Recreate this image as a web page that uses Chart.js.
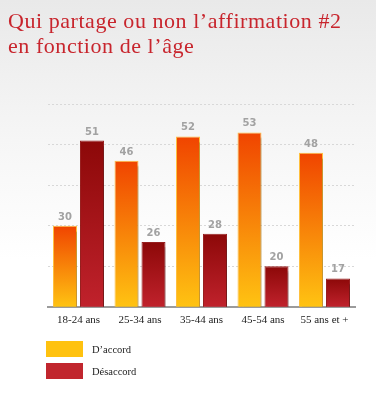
<!DOCTYPE html>
<html>
<head>
<meta charset="utf-8">
<script src="https://cdn.jsdelivr.net/npm/chart.js@4/dist/chart.umd.min.js"></script>
<style>
  html, body { margin: 0; padding: 0; }
  body {
    width: 376px; height: 410px; position: relative; overflow: hidden;
    background: linear-gradient(#e9e9e9 0px, #f6f6f6 140px, #ffffff 260px);
  }
  #title {
    position: absolute; left: 8px; top: 8px; margin: 0;
    font: normal 22px/25px "Liberation Serif", serif; letter-spacing: 0.55px;
    color: #c8252d;
  }
  #wrap { position: absolute; left: 0; top: 0; width: 376px; height: 410px; }
  #legend { position: absolute; left: 46px; top: 341px; }
  .item { display: flex; align-items: center; height: 16px; margin-bottom: 6px; }
  .box { width: 37px; height: 16px; margin-right: 9px; }
  .item span { font: 10.5px "Liberation Serif", serif; color: #222; }
</style>
</head>
<body>
<div id="wrap"><canvas id="chart" width="376" height="410"></canvas></div>
<h1 id="title">Qui partage ou non l’affirmation #2<br>en fonction de l’âge</h1>
<div id="legend"></div>
<script>
const ageGroups = ['18-24 ans', '25-34 ans', '35-44 ans', '45-54 ans', '55 ans et +'];
const agree = [30, 46, 52, 53, 48];
const disagree = [51, 26, 28, 20, 17];
const seriesNames = ['D’accord', 'Désaccord'];
const legendColors = ['#ffc20f', '#c1262e'];

// vertical gradient per bar, from its top down to the baseline
function barGradient(top, bottom, fallback) {
  return ctx => {
    const chart = ctx.chart;
    const area = chart.chartArea;
    if (!area || ctx.dataIndex === undefined) return fallback;
    const y = chart.scales.y.getPixelForValue(ctx.dataset.data[ctx.dataIndex]);
    const g = chart.ctx.createLinearGradient(0, y, 0, area.bottom);
    g.addColorStop(0, top);
    g.addColorStop(1, bottom);
    return g;
  };
}

const barShadow = {
  id: 'barShadow',
  beforeDatasetsDraw(chart) {
    const c = chart.ctx;
    c.save();
    c.shadowColor = 'rgba(0,0,0,0.22)';
    c.shadowOffsetX = 3;
    c.shadowOffsetY = 5;
    c.shadowBlur = 1;
  },
  afterDatasetsDraw(chart) {
    chart.ctx.restore();
  }
};

const valueLabels = {
  id: 'valueLabels',
  afterDraw(chart) {
    const c = chart.ctx;
    c.save();
    c.font = 'bold 10px "DejaVu Sans", sans-serif';
    c.fillStyle = '#a2a2a2';
    c.textAlign = 'center';
    c.textBaseline = 'alphabetic';
    chart.data.datasets.forEach((ds, i) => {
      chart.getDatasetMeta(i).data.forEach((bar, j) => {
        c.fillText(ds.data[j], bar.x, bar.y - 6);
      });
    });
    c.restore();
  }
};

new Chart(document.getElementById('chart'), {
  type: 'bar',
  data: {
    labels: ageGroups,
    datasets: [
      {
        label: seriesNames[0],
        data: agree,
        backgroundColor: barGradient('#f04400', '#ffc312', '#f88a00'),
        borderColor: 'rgba(255,185,40,0.9)',
        borderWidth: 1,
        categoryPercentage: 0.878,
        barPercentage: 0.889
      },
      {
        label: seriesNames[1],
        data: disagree,
        backgroundColor: barGradient('#8c0808', '#c0222c', '#a51519'),
        borderColor: 'rgba(140,8,8,0.9)',
        borderWidth: 1,
        categoryPercentage: 0.878,
        barPercentage: 0.889
      }
    ]
  },
  options: {
    responsive: false,
    animation: false,
    layout: { padding: { left: 47.75, right: 20.75, top: 104, bottom: 76 } },
    plugins: {
      legend: { display: false },
      tooltip: { enabled: false }
    },
    scales: {
      x: {
        grid: { display: false, drawTicks: false },
        border: { display: true, color: '#9b9b9b', width: 2 },
        ticks: {
          padding: 7,
          color: '#222',
          font: { family: '"Liberation Serif", serif', size: 11 }
        }
      },
      y: {
        min: 10,
        max: 60,
        ticks: { display: false, stepSize: 10 },
        grid: { color: '#d8d8d8', drawTicks: false, lineWidth: 1 },
        border: { display: false, dash: [2, 2] }
      }
    }
  },
  plugins: [barShadow, valueLabels]
});

// html legend from the series names
const legend = document.getElementById('legend');
seriesNames.forEach((name, i) => {
  const item = document.createElement('div');
  item.className = 'item';
  const box = document.createElement('div');
  box.className = 'box';
  box.style.background = legendColors[i];
  const label = document.createElement('span');
  label.textContent = name;
  item.appendChild(box);
  item.appendChild(label);
  legend.appendChild(item);
});
</script>
</body>
</html>
